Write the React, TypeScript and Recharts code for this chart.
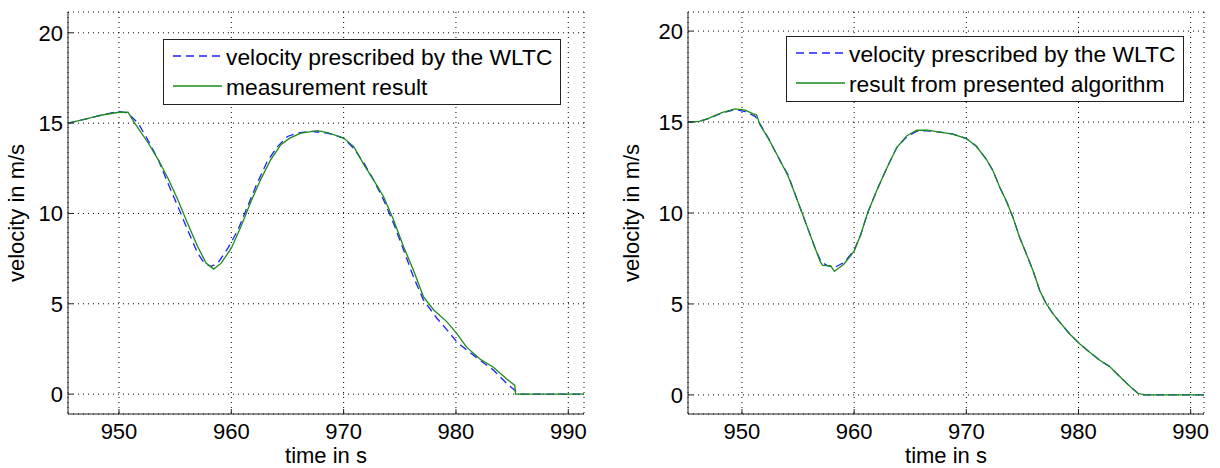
import { CartesianGrid, Legend, Line, LineChart, XAxis, YAxis } from "recharts";

const timeTicks = [950, 960, 970, 980, 990];
const velocityTicks = [0, 5, 10, 15, 20];

const wltcName = "velocity prescribed by the WLTC";
const measuredName = "measurement result";
const algorithmName = "result from presented algorithm";

// left panel: WLTC vs. measurement
const leftWltcTime = [945.46, 947, 948.5, 950, 950.8, 951.7, 952.4, 953.5, 954.35, 955.24, 956.1, 957.0, 957.6, 958.2, 958.8, 959.7, 960.6, 961.45, 962.3, 963.2, 964.1, 965.0, 965.9, 967.1, 968.55, 970, 970.9, 971.8, 972.66, 973.55, 974.44, 975.33, 976.2, 977.1, 978.3, 979.2, 980.06, 980.95, 982.1, 983.3, 984.5, 985.4, 985.7, 991.4];
const leftWltcSpeed = [15.0, 15.22, 15.45, 15.65, 15.55, 15.0, 14.26, 12.97, 11.68, 10.39, 9.1, 7.8, 7.25, 7.07, 7.25, 8.08, 9.1, 10.39, 11.68, 12.88, 13.7, 14.26, 14.45, 14.54, 14.45, 14.17, 13.6, 12.8, 11.86, 10.76, 9.46, 7.99, 6.51, 5.22, 4.2, 3.56, 2.9, 2.45, 1.9, 1.35, 0.6, 0.13, 0, 0];

const measuredTime = [945.46, 947, 948.5, 950, 950.8, 951.4, 952.6, 953.5, 954.35, 955.24, 956.1, 957.0, 957.75, 958.43, 959.1, 960.0, 960.86, 961.75, 962.6, 963.5, 964.4, 965.2, 966.2, 967.66, 968.55, 970, 970.9, 971.8, 972.66, 973.55, 974.44, 975.33, 976.2, 977.1, 978.0, 979.2, 980.06, 980.95, 982.1, 983.3, 984.5, 985.24, 985.3, 991.4];
const measuredSpeed = [15.0, 15.22, 15.45, 15.6, 15.6, 15.0, 13.9, 12.97, 11.96, 10.76, 9.46, 8.17, 7.25, 6.92, 7.25, 8.08, 9.28, 10.66, 11.86, 12.97, 13.8, 14.17, 14.45, 14.58, 14.48, 14.17, 13.7, 12.7, 11.86, 10.94, 9.65, 8.17, 6.88, 5.4, 4.67, 4.0, 3.36, 2.6, 1.96, 1.5, 0.85, 0.48, 0, 0];

// right panel: WLTC vs. algorithm
const rightWltcTime = [945.19, 946.2, 947.06, 948.2, 949.4, 950.3, 951.2, 951.6, 952.35, 953.2, 954.1, 954.7, 955.3, 955.9, 956.5, 957.06, 957.65, 958.24, 959.1, 960.0, 960.6, 961.2, 962.06, 962.94, 963.8, 964.7, 965.6, 966.5, 967.65, 968.8, 970, 970.9, 971.8, 972.4, 973.0, 973.57, 974.17, 974.76, 975.36, 975.95, 976.55, 977.14, 977.74, 978.33, 979.2, 980.1, 981.0, 981.9, 982.8, 983.7, 984.6, 985.3, 985.9, 991.19];
const rightWltcSpeed = [15.0, 15.04, 15.2, 15.5, 15.68, 15.58, 15.3, 14.9, 14.12, 13.1, 12.1, 11.1, 10.1, 9.1, 8.1, 7.3, 7.1, 7.0, 7.28, 7.95, 8.83, 10.0, 11.3, 12.5, 13.6, 14.2, 14.5, 14.52, 14.45, 14.34, 14.09, 13.67, 12.94, 12.3, 11.39, 10.66, 9.74, 8.65, 7.74, 6.82, 5.73, 5.0, 4.45, 4.0, 3.36, 2.81, 2.35, 1.9, 1.55, 1.0, 0.46, 0.09, 0, 0];

const algorithmTime = [945.19, 946.2, 947.06, 948.2, 949.4, 950.3, 951.0, 951.3, 951.6, 952.35, 953.2, 954.1, 954.7, 955.3, 955.9, 956.5, 957.0, 957.2, 957.9, 958.24, 959.1, 960.0, 960.6, 961.2, 962.06, 962.94, 963.8, 964.7, 965.6, 966.5, 967.65, 968.8, 970, 970.9, 971.8, 972.4, 973.0, 973.57, 974.17, 974.76, 975.36, 975.95, 976.55, 977.14, 977.74, 978.33, 979.2, 980.1, 981.0, 981.9, 982.8, 983.7, 984.6, 985.3, 985.9, 991.19];
const algorithmSpeed = [15.0, 15.04, 15.22, 15.52, 15.72, 15.65, 15.45, 15.4, 14.85, 14.1, 13.12, 12.05, 11.1, 10.1, 9.1, 8.1, 7.3, 7.12, 7.1, 6.79, 7.2, 7.9, 8.83, 10.0, 11.3, 12.5, 13.6, 14.25, 14.55, 14.56, 14.45, 14.34, 14.09, 13.67, 12.94, 12.3, 11.39, 10.66, 9.74, 8.65, 7.74, 6.82, 5.73, 5.0, 4.45, 4.0, 3.36, 2.81, 2.35, 1.9, 1.55, 1.0, 0.46, 0.09, 0, 0];

const font = "'Liberation Sans', Arial, Helvetica, sans-serif";
const boxColor = "#222";
const blue = "#1f1fff";
const green = "#1a8c1a";

const toPoints = (time: number[], speed: number[]) => time.map((t, i) => ({ t, v: speed[i] }));

type LegendBoxProps = { resultName: string };

function LegendBox({ resultName }: LegendBoxProps) {
  const rows = [
    { name: wltcName, color: blue, dash: "8 5" },
    { name: resultName, color: green, dash: undefined }
  ];
  return (
    <div style={{ width: 396, height: 62, border: `1px solid ${boxColor}`, background: "#fff", fontFamily: font, fontSize: 22.8, color: "#000", paddingTop: 2 }}>
      {rows.map((row) => (
        <div key={row.name} style={{ display: "flex", alignItems: "center", height: 30 }}>
          <svg width={62} height={30} style={{ flex: "none" }}>
            <line x1={9} x2={58} y1={14} y2={14} stroke={row.color} strokeWidth={1.3} strokeDasharray={row.dash} />
          </svg>
          <span style={{ whiteSpace: "nowrap", lineHeight: "30px" }}>{row.name}</span>
        </div>
      ))}
    </div>
  );
}

type PanelProps = {
  left: number;
  wltc: { t: number; v: number }[];
  result: { t: number; v: number }[];
  resultName: string;
  xDomain: [number, number];
  yDomain: [number, number];
  yAxisWidth: number;
  marginRight: number;
  yTitleX: number;
  legendLeft: number;
  legendTop: number;
};

function Panel({ left, wltc, result, resultName, xDomain, yDomain, yAxisWidth, marginRight, yTitleX, legendLeft, legendTop }: PanelProps) {
  const tickStyle = { fontFamily: font, fontSize: 22, fill: "#000" };
  return (
    <div style={{ position: "absolute", left, top: 0 }}>
      <LineChart width={610} height={468} margin={{ top: 12, right: marginRight, bottom: 0, left: 0 }}>
        <CartesianGrid stroke="#000" strokeDasharray="1 4" strokeWidth={1} />
        <XAxis
          dataKey="t"
          type="number"
          domain={xDomain}
          ticks={timeTicks}
          height={54}
          tickSize={-5}
          tickMargin={14}
          tick={tickStyle}
          stroke={boxColor}
          allowDataOverflow
          label={(props: any) => {
            const vb = props.viewBox;
            return (
              <text x={vb.x + vb.width / 2} y={vb.y + 49} textAnchor="middle" fontFamily={font} fontSize={22} fill="#000">
                time in s
              </text>
            );
          }}
        />
        <XAxis xAxisId="top" orientation="top" type="number" domain={xDomain} ticks={timeTicks} height={0} tick={false} tickSize={-5} stroke={boxColor} allowDataOverflow />
        <YAxis
          type="number"
          domain={yDomain}
          ticks={velocityTicks}
          width={yAxisWidth}
          tickSize={-5}
          tickMargin={10}
          tick={tickStyle}
          stroke={boxColor}
          allowDataOverflow
          label={(props: any) => {
            const vb = props.viewBox;
            const cy = vb.y + vb.height / 2;
            return (
              <text x={yTitleX} y={cy} transform={`rotate(-90 ${yTitleX} ${cy})`} textAnchor="middle" fontFamily={font} fontSize={22} fill="#000">
                velocity in m/s
              </text>
            );
          }}
        />
        <YAxis yAxisId="right" orientation="right" type="number" domain={yDomain} ticks={velocityTicks} width={0} tick={false} tickSize={-5} stroke={boxColor} allowDataOverflow />
        <Legend
          layout="horizontal"
          align="center"
          verticalAlign="middle"
          wrapperStyle={{ left: legendLeft, top: legendTop, width: 398, height: 64 }}
          content={() => <LegendBox resultName={resultName} />}
        />
        <Line data={wltc} dataKey="v" name={wltcName} type="linear" stroke={blue} strokeWidth={1.3} strokeDasharray="8 5" dot={false} activeDot={false} isAnimationActive={false} />
        <Line data={result} dataKey="v" name={resultName} type="linear" stroke={green} strokeWidth={1.3} dot={false} activeDot={false} isAnimationActive={false} />
      </LineChart>
    </div>
  );
}

export default function App() {
  return (
    <div style={{ position: "absolute", left: 0, top: 0, width: 1220, height: 468, background: "#fff" }}>
      <Panel
        left={0}
        wltc={toPoints(leftWltcTime, leftWltcSpeed)}
        result={toPoints(measuredTime, measuredSpeed)}
        resultName={measuredName}
        xDomain={[945.46, 991.4]}
        yDomain={[-1.1, 21.15]}
        yAxisWidth={68}
        marginRight={26}
        yTitleX={24}
        legendLeft={163}
        legendTop={39}
      />
      <Panel
        left={610}
        wltc={toPoints(rightWltcTime, rightWltcSpeed)}
        result={toPoints(algorithmTime, algorithmSpeed)}
        resultName={algorithmName}
        xDomain={[945.19, 991.19]}
        yDomain={[-1.05, 21.05]}
        yAxisWidth={78}
        marginRight={16}
        yTitleX={29}
        legendLeft={176}
        legendTop={36}
      />
    </div>
  );
}
